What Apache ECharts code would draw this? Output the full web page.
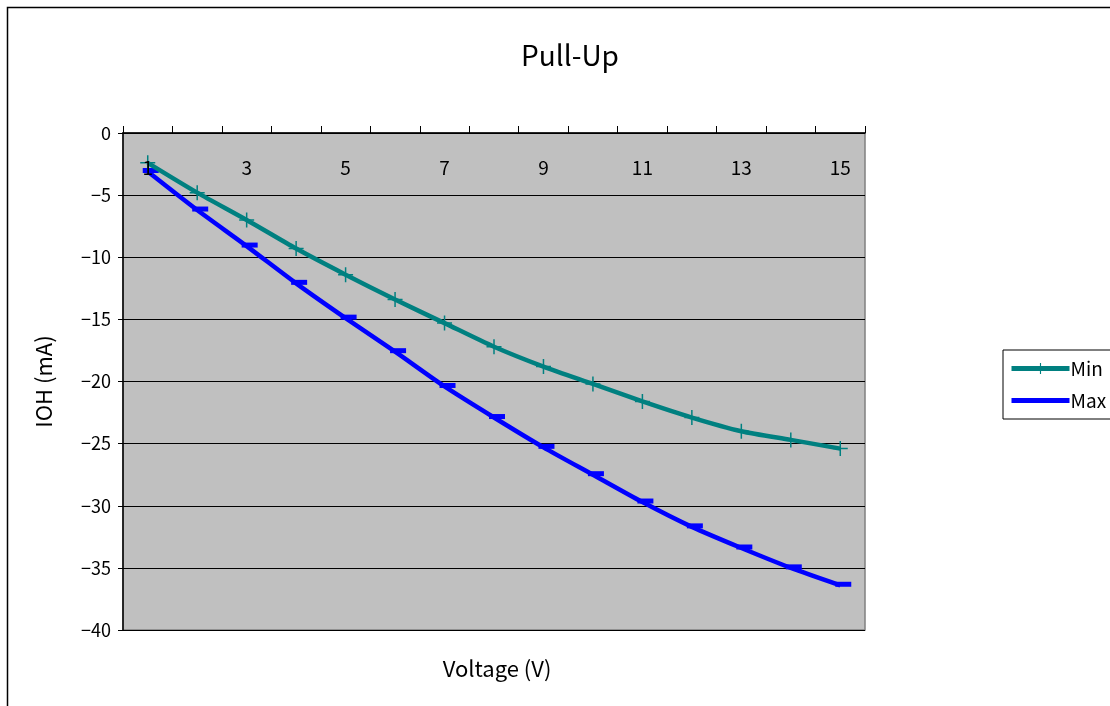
<!DOCTYPE html>
<html>
<head>
<meta charset="utf-8">
<script src="https://cdn.jsdelivr.net/npm/echarts@6/dist/echarts.min.js"></script>
<style>
  html, body { margin: 0; padding: 0; background: #fff; }
  #chart { width: 1110px; height: 706px; }
</style>
</head>
<body>
<div id="chart"></div>
<script>
const voltages = ['1', '2', '3', '4', '5', '6', '7', '8', '9', '10', '11', '12', '13', '14', '15']
const minValues = [-2.4, -4.8, -7.0, -9.3, -11.4, -13.4, -15.3, -17.2, -18.8, -20.2, -21.6, -22.9, -24.0, -24.7, -25.4]
const maxValues = [-3.1, -6.2, -9.1, -12.1, -14.9, -17.6, -20.4, -22.9, -25.3, -27.5, -29.7, -31.7, -33.4, -35.0, -36.4]

const FONT = '"Noto Sans CJK KR", "DejaVu Sans", sans-serif'
const plusPath = 'path://M0,6.3h14v1.4h-14z M6.3,0h1.4v14h-1.4z'
// thick bar through the middle, with tiny corner specks so the icon keeps its full box
const barIcon = 'path://M0,0h0.01v0.01h-0.01z M0,4.5h58v5h-58z M57.99,13.99h0.01v0.01h-0.01z'

const chart = echarts.init(document.getElementById('chart'))

const option = {
  animation: false,
  textStyle: { fontFamily: FONT, color: '#000' },
  title: [
    {
      text: 'Pull-Up',
      left: 565,
      top: 36,
      textAlign: 'center',
      textStyle: { fontFamily: FONT, fontSize: 28, fontWeight: 'normal', color: '#000' }
    },
    {
      text: 'Voltage (V)',
      left: 492,
      top: 653,
      textAlign: 'center',
      textStyle: { fontFamily: FONT, fontSize: 22, fontWeight: 'normal', color: '#000' }
    }
  ],
  graphic: [
    {
      type: 'rect',
      shape: { x: 7.5, y: 7.5, width: 1200, height: 800 },
      style: { fill: 'none', stroke: '#000', lineWidth: 1.5 },
      silent: true,
      z: -1
    }
  ],
  legend: {
    data: [
      { name: 'Min' },
      { name: 'Max', icon: barIcon }
    ],
    orient: 'vertical',
    left: 1003,
    top: 350,
    padding: [9, 30, 9, 6],
    itemGap: 13,
    itemWidth: 58,
    itemHeight: 14,
    borderColor: '#000',
    borderWidth: 1,
    borderRadius: 0,
    lineStyle: { width: 5 },
    textStyle: { fontFamily: FONT, fontSize: 19, color: '#000', padding: [0, 0, 0, -4] }
  },
  grid: {
    left: 123,
    top: 133,
    right: 245,
    bottom: 76,
    show: true,
    backgroundColor: '#C0C0C0',
    borderColor: '#808080',
    borderWidth: 1.5
  },
  xAxis: {
    type: 'category',
    position: 'top',
    data: voltages,
    boundaryGap: true,
    z: 10,
    axisLine: { lineStyle: { color: '#000', width: 1.5 } },
    axisTick: { show: true, interval: 0, length: 7, lineStyle: { color: '#000' } },
    axisLabel: {
      interval: 1,
      showMinLabel: true,
      margin: -44,
      fontSize: 19,
      color: '#000',
      fontFamily: FONT
    },
    splitLine: { show: false }
  },
  yAxis: {
    type: 'value',
    min: -40,
    max: 0,
    interval: 5,
    name: 'IOH (mA)',
    nameLocation: 'middle',
    nameGap: 68,
    nameTextStyle: { fontFamily: FONT, fontSize: 22, color: '#000' },
    axisLine: { show: true, lineStyle: { color: '#000', width: 1.5 } },
    axisTick: { show: true, length: 5, lineStyle: { color: '#000' } },
    axisLabel: {
      fontSize: 18,
      color: '#000',
      margin: 12,
      fontFamily: FONT,
      formatter: v => String(v).replace('-', '\u2212')
    },
    splitLine: { show: true, lineStyle: { color: '#000', width: 1 } }
  },
  series: [
    {
      name: 'Min',
      type: 'line',
      data: minValues,
      smooth: 0.25,
      symbol: plusPath,
      symbolSize: 15,
      showAllSymbol: true,
      color: '#008080',
      lineStyle: { color: '#008080', width: 4.5 },
      itemStyle: { color: '#008080' },
      z: 3
    },
    {
      name: 'Max',
      type: 'line',
      data: maxValues,
      smooth: 0.25,
      symbol: 'rect',
      symbolSize: [16, 5],
      symbolOffset: [3, -1],
      showAllSymbol: true,
      color: '#0000FF',
      lineStyle: { color: '#0000FF', width: 4.5 },
      itemStyle: { color: '#0000FF' },
      z: 2
    }
  ]
}

chart.setOption(option)
</script>
</body>
</html>
